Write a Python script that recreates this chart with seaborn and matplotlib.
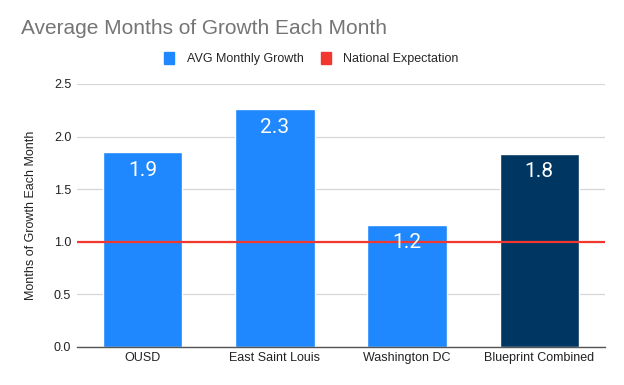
import pandas as pd
import matplotlib.pyplot as plt
import seaborn as sns
from matplotlib.patches import Patch

sites = ["OUSD", "East Saint Louis", "Washington DC", "Blueprint Combined"]
growth = [1.85, 2.26, 1.16, 1.835]
bar_labels = ["1.9", "2.3", "1.2", "1.8"]
group = ["site", "site", "site", "combined"]
national_expectation = 1.0

blue = "#1f88fe"
navy = "#003662"
red = "#f2372f"

df = pd.DataFrame({"site": sites, "growth": growth, "group": group})

sns.set_theme(style="white")
plt.rcParams["font.family"] = ["Liberation Sans", "DejaVu Sans"]

fig = plt.figure(figsize=(6.24, 3.85), dpi=100)
ax = fig.add_axes([0.123, 0.099, 0.847, 0.683])

sns.barplot(data=df, x="site", y="growth", hue="group",
            palette={"site": blue, "combined": navy}, dodge=False,
            width=0.6, legend=False, ax=ax, saturation=1)

ax.axhline(national_expectation, color=red, lw=1.6, zorder=5)

for i, (v, t) in enumerate(zip(growth, bar_labels)):
    ax.annotate(t, (i, v), xytext=(0, -13), textcoords="offset points",
                ha="center", va="center", color="white", fontsize=15,
                family=["Roboto", "DejaVu Sans"], zorder=6)

ax.set_xlim(-0.5, 3.5)
ax.set_ylim(0, 2.5)
ax.set_yticks([0, 0.5, 1.0, 1.5, 2.0, 2.5])
ax.set_yticklabels(["0.0", "0.5", "1.0", "1.5", "2.0", "2.5"])
ax.yaxis.grid(True, color="#d6d6d6", lw=0.9)
ax.set_axisbelow(True)
for s in ["top", "right", "left"]:
    ax.spines[s].set_visible(False)
ax.spines["bottom"].set_color("#555555")
ax.spines["bottom"].set_linewidth(1.0)
ax.tick_params(axis="both", length=0, labelsize=9, colors="#222222", pad=4)
ax.set_xlabel("")
ax.set_ylabel("Months of Growth Each Month", fontsize=9, color="#222222", labelpad=12)

fig.text(0.033, 0.927, "Average Months of Growth Each Month", fontsize=15,
         color="#757575", ha="left", va="center")

handles = [Patch(color=blue, label="AVG Monthly Growth"),
           Patch(color=red, label="National Expectation")]
fig.legend(handles=handles, loc="center", bbox_to_anchor=(0.499, 0.847), ncol=2,
           frameon=False, fontsize=9, handlelength=0.8, handleheight=1.0,
           columnspacing=1.4, handletextpad=1.0)

fig.savefig("out.png", dpi=100)
